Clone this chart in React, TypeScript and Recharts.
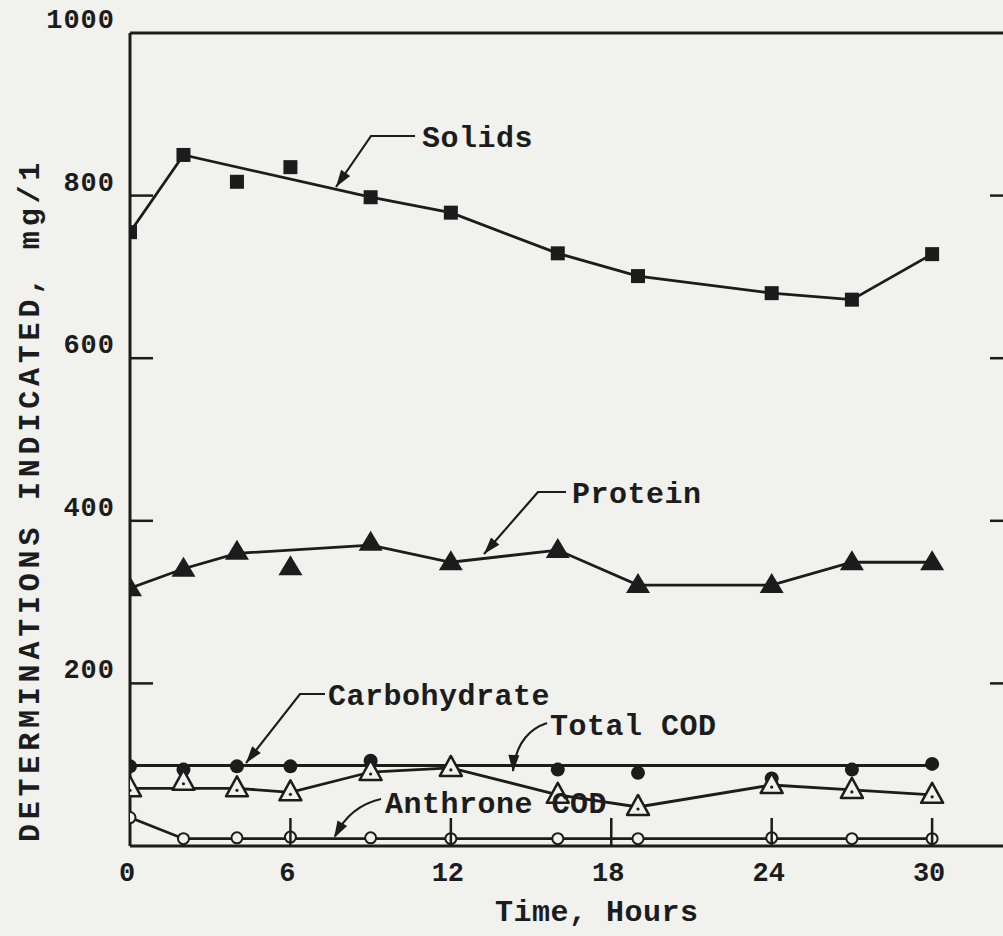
import React from "react";
import { ComposedChart, Line, Scatter, XAxis, YAxis } from "recharts";

const INK = "#1c1c1c";
const PAPER = "#f1f1ee";
const FONT = "'Liberation Mono', 'DejaVu Sans Mono', monospace";

// sampling times, hours
const hours = [0, 2, 4, 6, 9, 12, 16, 19, 24, 27, 30];

// measured values, mg/1
const solids = [755, 850, 817, 835, 798, 779, 729, 701, 680, 672, 728];
const protein = [317, 341, 362, 343, 373, 349, 364, 321, 321, 349, 349];
const totalCod = [71, 79, 71, 66, 91, 96, 63, 48, 75, 69, 63];
const anthroneCod = [35, 9, 10, 11, 10, 9, 9, 9, 10, 9, 9];

const carbohydrateHours = [0, 2, 4, 6, 9, 16, 19, 24, 27, 30];
const carbohydrate = [98, 94, 98, 98, 105, 94, 90, 83, 94, 101];

// smoothed curves drawn through the points
const solidsFitHours = [0, 2, 9, 12, 16, 19, 24, 27, 30];
const solidsFit = [755, 850, 798, 779, 729, 701, 680, 672, 728];
const proteinFitHours = [0, 2, 4, 9, 12, 16, 19, 24, 27, 30];
const proteinFit = [317, 341, 360, 370, 349, 364, 321, 321, 349, 349];
const carbohydrateFitHours = [0, 30];
const carbohydrateFit = [99, 99];
const totalCodFitHours = [0, 4, 6, 9, 12, 16, 19, 24, 27, 30];
const totalCodFit = [71, 71, 66, 91, 96, 63, 48, 75, 69, 63];
const anthroneFitHours = [0, 2, 30];
const anthroneFit = [35, 9, 9];

const xTicks = [0, 6, 12, 18, 24, 30];
const yTicks = [200, 400, 600, 800, 1000];

const zip = (xs: number[], ys: number[]) => xs.map((x, i) => ({ x, y: ys[i] }));

const labelStyle = {
  fontFamily: FONT,
  fontWeight: 700,
  fill: INK,
};

function BottomTick(props: any) {
  const { x, y, payload } = props;
  return (
    <g>
      {payload.value !== 0 && (
        <line x1={x} y1={y} x2={x} y2={y - 28} stroke={INK} strokeWidth={2.5} />
      )}
      <text x={x - 3} y={y + 35} textAnchor="middle" fontSize={27} {...labelStyle}>
        {payload.value}
      </text>
    </g>
  );
}

function TopTick(props: any) {
  const { x, y } = props;
  return <line x1={x} y1={y} x2={x} y2={y + 25} stroke={INK} strokeWidth={2.5} />;
}

function LeftTick(props: any) {
  const { x, y, payload } = props;
  return (
    <g>
      {payload.value !== 1000 && (
        <line x1={x} y1={y} x2={x + 23} y2={y} stroke={INK} strokeWidth={2.5} />
      )}
      <text x={x - 15} y={y - 5} textAnchor="end" fontSize={27} letterSpacing={1} {...labelStyle}>
        {payload.value}
      </text>
    </g>
  );
}

function RightTick(props: any) {
  const { x, y } = props;
  return <line x1={x} y1={y} x2={x - 25} y2={y} stroke={INK} strokeWidth={2.5} />;
}

const Square = ({ cx, cy }: any) => (
  <rect x={cx - 7} y={cy - 7} width={14} height={14} fill={INK} />
);

const FilledTriangle = ({ cx, cy }: any) => (
  <polygon points={`${cx},${cy - 12} ${cx - 12},${cy + 8} ${cx + 12},${cy + 8}`} fill={INK} />
);

const Dot = ({ cx, cy }: any) => <circle cx={cx} cy={cy} r={7} fill={INK} />;

const OpenTriangle = ({ cx, cy }: any) => (
  <g>
    <polygon
      points={`${cx},${cy - 12} ${cx - 11},${cy + 8} ${cx + 11},${cy + 8}`}
      fill={PAPER}
      stroke={INK}
      strokeWidth={2.5}
      strokeLinejoin="round"
    />
    <circle cx={cx} cy={cy + 2} r={1.6} fill={INK} />
  </g>
);

const OpenCircle = ({ cx, cy }: any) => (
  <circle cx={cx} cy={cy} r={5.5} fill={PAPER} stroke={INK} strokeWidth={2} />
);

// filled arrow head at (tx, ty), pointing away from (fx, fy)
function arrowHead(tx: number, ty: number, fx: number, fy: number, len = 17, half = 5.5) {
  const d = Math.hypot(tx - fx, ty - fy);
  const ux = (tx - fx) / d;
  const uy = (ty - fy) / d;
  const bx = tx - ux * len;
  const by = ty - uy * len;
  return `${tx},${ty} ${bx - uy * half},${by + ux * half} ${bx + uy * half},${by - ux * half}`;
}

const callouts = [
  { text: "Solids", tx: 422, ty: 147, path: "M415,136 L371,136 L336,187", tip: [336, 187], from: [371, 136] },
  { text: "Protein", tx: 572, ty: 503, path: "M566,492 L538,492 L484,554", tip: [484, 554], from: [538, 492] },
  { text: "Carbohydrate", tx: 328, ty: 705, path: "M325,694 L300,694 L246,763", tip: [246, 763], from: [300, 694] },
  { text: "Total COD", tx: 550, ty: 735, path: "M547,723 Q517,733 513,771", tip: [513, 772], from: [514, 752] },
  { text: "Anthrone COD", tx: 385, ty: 813, path: "M381,799 Q350,806 335,836", tip: [334, 838], from: [343, 822] },
];

export default function App() {
  const line = { type: "linear" as const, dataKey: "y", stroke: INK, strokeWidth: 2.8, dot: false, isAnimationActive: false };
  return (
    <div
      style={{
        position: "fixed",
        left: 0,
        top: 0,
        width: 1003,
        height: 936,
        overflow: "hidden",
        background: PAPER,
      }}
    >
      <ComposedChart width={1040} height={936} margin={{ top: 0, right: 0, bottom: 0, left: 0 }}>
        <XAxis
          dataKey="x"
          type="number"
          domain={[0, 33.1]}
          ticks={xTicks}
          interval={0}
          height={90}
          tickSize={0}
          tickMargin={0}
          tickLine={false}
          axisLine={{ stroke: INK, strokeWidth: 3 }}
          tick={(p: any) => <BottomTick {...p} />}
          allowDataOverflow
        />
        <XAxis
          xAxisId="top"
          orientation="top"
          type="number"
          domain={[0, 33.1]}
          ticks={[6, 12, 18, 24, 30]}
          interval={0}
          height={33}
          tickSize={0}
          tickMargin={0}
          tickLine={false}
          axisLine={{ stroke: INK, strokeWidth: 3 }}
          tick={(p: any) => <TopTick {...p} />}
          allowDataOverflow
        />
        <YAxis
          dataKey="y"
          type="number"
          domain={[0, 1000]}
          ticks={yTicks}
          interval={0}
          width={130}
          tickSize={0}
          tickMargin={0}
          tickLine={false}
          axisLine={{ stroke: INK, strokeWidth: 3 }}
          tick={(p: any) => <LeftTick {...p} />}
          allowDataOverflow
        />
        <YAxis
          yAxisId="right"
          orientation="right"
          type="number"
          domain={[0, 1000]}
          ticks={[200, 400, 600, 800]}
          interval={0}
          width={25}
          tickSize={0}
          tickMargin={0}
          tickLine={false}
          axisLine={{ stroke: INK, strokeWidth: 3 }}
          tick={(p: any) => <RightTick {...p} />}
          allowDataOverflow
        />

        <Line {...line} data={zip(solidsFitHours, solidsFit)} />
        <Line {...line} data={zip(proteinFitHours, proteinFit)} />
        <Line {...line} data={zip(carbohydrateFitHours, carbohydrateFit)} />
        <Line {...line} data={zip(totalCodFitHours, totalCodFit)} />
        <Line {...line} data={zip(anthroneFitHours, anthroneFit)} />

        <Scatter dataKey="y" data={zip(hours, solids)} shape={(p: any) => <Square {...p} />} isAnimationActive={false} />
        <Scatter dataKey="y" data={zip(hours, protein)} shape={(p: any) => <FilledTriangle {...p} />} isAnimationActive={false} />
        <Scatter dataKey="y" data={zip(carbohydrateHours, carbohydrate)} shape={(p: any) => <Dot {...p} />} isAnimationActive={false} />
        <Scatter dataKey="y" data={zip(hours, totalCod)} shape={(p: any) => <OpenTriangle {...p} />} isAnimationActive={false} />
        <Scatter dataKey="y" data={zip(hours, anthroneCod)} shape={(p: any) => <OpenCircle {...p} />} isAnimationActive={false} />
      </ComposedChart>

      <svg
        width={1003}
        height={936}
        style={{ position: "absolute", left: 0, top: 0, pointerEvents: "none" }}
      >
        {callouts.map((c) => (
          <g key={c.text}>
            <path d={c.path} fill="none" stroke={INK} strokeWidth={2.2} />
            <polygon points={arrowHead(c.tip[0], c.tip[1], c.from[0], c.from[1])} fill={INK} />
            <text x={c.tx} y={c.ty} fontSize={30} letterSpacing={0.5} {...labelStyle}>
              {c.text}
            </text>
          </g>
        ))}
        <text x={495} y={921} fontSize={30} letterSpacing={0.5} {...labelStyle}>
          Time, Hours
        </text>
        <text
          x={-500}
          y={39}
          transform="rotate(-90)"
          textAnchor="middle"
          fontSize={30}
          letterSpacing={4.8}
          {...labelStyle}
        >
          DETERMINATIONS INDICATED, mg/1
        </text>
      </svg>
    </div>
  );
}
